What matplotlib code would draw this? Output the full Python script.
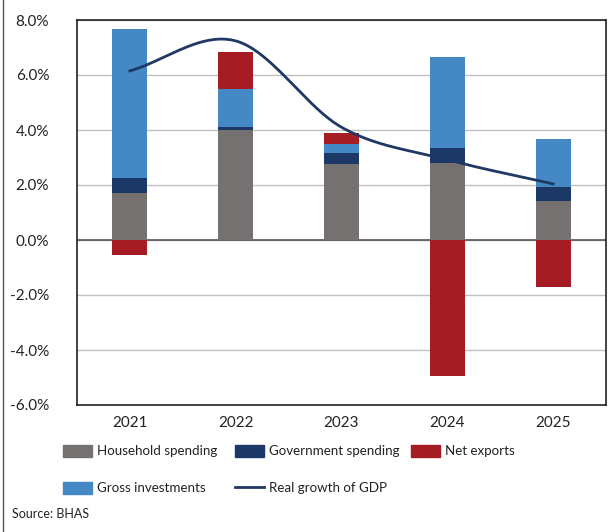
import numpy as np
import matplotlib
matplotlib.use('Agg')
import matplotlib.pyplot as plt
from matplotlib.patches import Patch
from matplotlib.lines import Line2D

plt.rcParams['font.family'] = ['Lato', 'DejaVu Sans']

# ===== data (percentage points) =====
years = ['2021', '2022', '2023', '2024', '2025']
household = [1.70, 4.00, 2.76, 2.80, 1.42]
government = [0.56, 0.11, 0.40, 0.54, 0.51]
gross_inv = [5.43, 1.38, 0.33, 3.30, 1.74]
net_exports = [-0.55, 1.35, 0.40, -4.95, -1.70]
gdp_growth = [6.15, 7.24, 4.10, 2.92, 2.04]

c_house = '#767171'
c_gov = '#1c3867'
c_net = '#a51c24'
c_inv = '#4488c5'
c_line = '#1f3864'

fig = plt.figure(figsize=(6.11, 5.32), dpi=100)
ax = fig.add_axes([77/611, 1 - 405/532, 529/611, 385/532])

x = np.arange(len(years))
w = 0.33
house = np.array(household)
gov = np.array(government)
inv = np.array(gross_inv)
net = np.array(net_exports)

# positive parts stack upward, negative parts go below zero
ax.bar(x, house, w, color=c_house, zorder=3)
ax.bar(x, gov, w, bottom=house, color=c_gov, zorder=3)
ax.bar(x, inv, w, bottom=house + gov, color=c_inv, zorder=3)
net_bottom = np.where(net > 0, house + gov + inv, 0)
ax.bar(x, net, w, bottom=net_bottom, color=c_net, zorder=3)

# smoothed line (cardinal spline through the yearly points)
pts = np.array(gdp_growth)
xs, ys = [], []
for i in range(len(pts) - 1):
    p0 = pts[max(i - 1, 0)]
    p1 = pts[i]
    p2 = pts[i + 1]
    p3 = pts[min(i + 2, len(pts) - 1)]
    t = np.linspace(0, 1, 40)
    m1 = (p2 - p0) / 2 if i > 0 else (p2 - p1)
    m2 = (p3 - p1) / 2 if i + 2 < len(pts) else (p2 - p1)
    h00 = 2*t**3 - 3*t**2 + 1
    h10 = t**3 - 2*t**2 + t
    h01 = -2*t**3 + 3*t**2
    h11 = t**3 - t**2
    xs.extend(i + t)
    ys.extend(h00*p1 + h10*m1 + h01*p2 + h11*m2)
ax.plot(xs, ys, color=c_line, lw=2, zorder=4)

ax.set_xlim(-0.5, 4.5)
ax.set_ylim(-6, 8)
ax.set_yticks(np.arange(-6, 9, 2))
ax.set_yticklabels([f'{v:.1f}%' for v in np.arange(-6, 9, 2)])
ax.set_xticks(x)
ax.set_xticklabels(years)
ax.tick_params(length=0, labelsize=11, colors='#222222')
ax.tick_params(axis='y', pad=20)
ax.tick_params(axis='x', pad=8)
ax.grid(axis='y', color='#c0c0c0', lw=1, zorder=0)
ax.axhline(0, color='#555555', lw=1.2, zorder=2)
for s in ax.spines.values():
    s.set_color('#222222')
    s.set_linewidth(1.2)

# ===== legend: three columns placed separately =====
columns = [
    (63, [Patch(color=c_house), Patch(color=c_inv)],
     ['Household spending', 'Gross investments']),
    (235, [Patch(color=c_gov), Line2D([0], [0], color=c_line, lw=2)],
     ['Government spending', 'Real growth of GDP']),
    (411, [Patch(color=c_net)], ['Net exports']),
]
for x0, hs, ls in columns:
    fig.legend(hs, ls, loc='upper left',
               bbox_to_anchor=(x0/611, 1 - 445/532), frameon=False,
               borderpad=0, borderaxespad=0,
               fontsize=9.6, handlelength=2.2, handleheight=0.95,
               handletextpad=0.38, labelspacing=1.85,
               labelcolor='#222222')

fig.text(12/611, 1 - 518/532, 'Source: BHAS', fontsize=9, color='#222222')
fig.add_artist(Line2D([3/611, 3/611], [0, 1], color='#555555', lw=1))

fig.savefig('out.png', dpi=100)
